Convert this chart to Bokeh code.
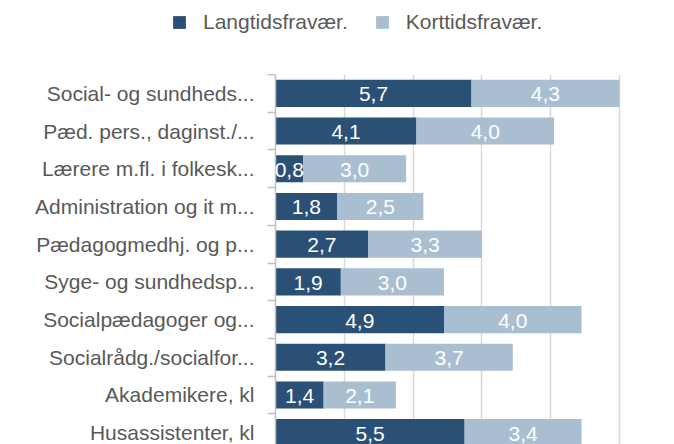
from bokeh.plotting import figure
from bokeh.layouts import column
from bokeh.models import ColumnDataSource, Range1d, FixedTicker, LabelSet, Legend, LegendItem
from bokeh.core.properties import value
from bokeh.embed import file_html
from bokeh.resources import INLINE

categories = [
    "Social- og sundheds...",
    "Pæd. pers., daginst./...",
    "Lærere m.fl. i folkesk...",
    "Administration og it m...",
    "Pædagogmedhj. og p...",
    "Syge- og sundhedsp...",
    "Socialpædagoger og...",
    "Socialrådg./socialfor...",
    "Akademikere, kl",
    "Husassistenter, kl",
]
langtid = [5.7, 4.1, 0.8, 1.8, 2.7, 1.9, 4.9, 3.2, 1.4, 5.5]
korttid = [4.3, 4.0, 3.0, 2.5, 3.3, 3.0, 4.0, 3.7, 2.1, 3.4]
series_names = ["Langtidsfravær.", "Korttidsfravær."]
grid_ticks = [0, 2, 4, 6, 8, 10]

DARK = "#2b5075"
LIGHT = "#a9bfd1"
TEXT = "#595959"
FONT = "Liberation Sans"
COLORS = [DARK, LIGHT]

def fmt(v):
    return f"{v:.1f}".replace(".", ",")

ypos = list(range(len(categories)))
src = ColumnDataSource(dict(
    y=ypos,
    lang=langtid,
    kort=korttid,
    lang_mid=[a / 2 for a in langtid],
    kort_mid=[a + b / 2 for a, b in zip(langtid, korttid)],
    lang_txt=[fmt(v) for v in langtid],
    kort_txt=[fmt(v) for v in korttid],
))

# ---- main chart ----
p = figure(width=666, height=370, output_backend="svg", toolbar_location=None,
           x_range=Range1d(0, 11.37), y_range=Range1d(9.314, -0.5),
           min_border_left=275, min_border_top=0, min_border_bottom=0,
           min_border_right=0)
p.frame_align = False
p.outline_line_color = None
p.background_fill_color = "white"
p.border_fill_color = "white"

p.hbar_stack(["lang", "kort"], y="y", height=0.72, color=COLORS,
             line_color=None, source=src)

for xcol, tcol in (("lang_mid", "lang_txt"), ("kort_mid", "kort_txt")):
    p.add_layout(LabelSet(x=xcol, y="y", text=tcol, source=src,
                          text_align="center", text_baseline="middle",
                          text_color="white", text_font=value(FONT),
                          text_font_size="21px", y_offset=-1))

p.xaxis.visible = False
p.xgrid.ticker = FixedTicker(ticks=grid_ticks)
p.xgrid.grid_line_color = "#d9d9d9"
p.xgrid.grid_line_width = 1.5
p.ygrid.visible = False

yax = p.yaxis[0]
yax.ticker = FixedTicker(ticks=ypos, minor_ticks=[i - 0.5 for i in range(len(categories))])
yax.major_label_overrides = {i: c for i, c in enumerate(categories)}
yax.major_tick_out = 0
yax.major_tick_in = 0
yax.minor_tick_out = 8
yax.minor_tick_in = 0
yax.minor_tick_line_color = "#bfbfbf"
yax.minor_tick_line_width = 1.5
yax.axis_line_color = "#bfbfbf"
yax.axis_line_width = 1.5
yax.major_label_standoff = 13
yax.major_label_text_font = FONT
yax.major_label_text_font_size = "21px"
yax.major_label_text_color = TEXT

# ---- legend strip on top ----
lg = figure(width=666, height=74, output_backend="svg", toolbar_location=None,
            x_range=Range1d(0, 1), y_range=Range1d(0, 1),
            x_axis_location=None, y_axis_location=None,
            min_border_left=0, min_border_right=0, min_border_top=0, min_border_bottom=0)
lg.frame_align = False
lg.grid.visible = False
lg.outline_line_color = None
lg.background_fill_color = "white"
lg.border_fill_color = "white"
legend_renderers = lg.hbar_stack(["lang", "kort"], y="y", height=0.72, color=COLORS,
                                 line_color=None, source=src)
for r in legend_renderers:
    r.visible = False

leg = Legend(items=[LegendItem(label=n, renderers=[r]) for n, r in zip(series_names, legend_renderers)])
leg.orientation = "horizontal"
leg.location = (171, 40)
leg.padding = 0
leg.margin = 0
leg.spacing = 26
leg.label_standoff = 16
leg.glyph_width = 16
leg.glyph_height = 16
leg.label_text_font = FONT
leg.label_text_font_size = "21px"
leg.label_text_color = TEXT
leg.border_line_color = None
leg.background_fill_alpha = 0
lg.add_layout(leg, "center")

layout = column(lg, p, spacing=0)
open("out.html", "w").write(file_html(layout, INLINE))
